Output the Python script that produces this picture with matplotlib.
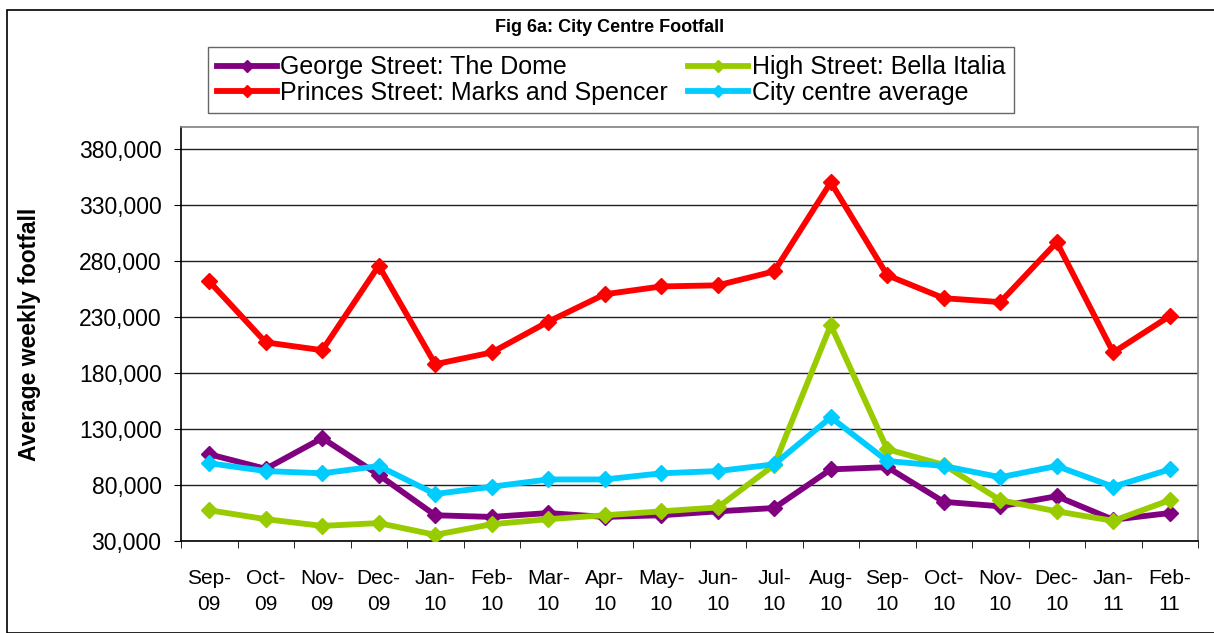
import numpy as np
import matplotlib.pyplot as plt
from matplotlib.patches import Rectangle

plt.rcParams['font.family'] = ['Liberation Sans', 'DejaVu Sans']

months = ['Sep-\n09', 'Oct-\n09', 'Nov-\n09', 'Dec-\n09', 'Jan-\n10', 'Feb-\n10',
          'Mar-\n10', 'Apr-\n10', 'May-\n10', 'Jun-\n10', 'Jul-\n10', 'Aug-\n10',
          'Sep-\n10', 'Oct-\n10', 'Nov-\n10', 'Dec-\n10', 'Jan-\n11', 'Feb-\n11']

george = [107500, 94500, 122000, 89000, 53000, 51500, 55000, 51500, 53000, 56500,
          59500, 94000, 96000, 65000, 61000, 70000, 49000, 55000]
high = [57500, 49500, 43500, 46000, 35500, 45000, 49500, 53000, 56500, 60000,
        98000, 223000, 112000, 98000, 66500, 56500, 48000, 66500]
princes = [262000, 207500, 200500, 276000, 188000, 198500, 226000, 250500, 257500, 258500,
           271000, 350500, 267500, 247000, 243500, 297000, 198500, 231000]
average = [99500, 92500, 90500, 97000, 72000, 78500, 85000, 85000, 90500, 92500,
           98500, 140500, 101500, 97000, 87000, 97000, 78500, 94000]

yticks = [30000, 80000, 130000, 180000, 230000, 280000, 330000, 380000]

fig = plt.figure(figsize=(12.14, 6.33), dpi=100)
fig.patches.append(Rectangle((7 / 1214, 0), 1.0, 1 - 10 / 633, transform=fig.transFigure,
                             fill=False, edgecolor='black', linewidth=1.2))

ax = fig.add_axes([181 / 1214, 1 - 541 / 633, (1198 - 181) / 1214, (541 - 127) / 633])
x = np.arange(len(months))

series = [
    (george, '#800080', 'George Street: The Dome'),
    (princes, '#FF0000', 'Princes Street: Marks and Spencer'),
    (high, '#99CC00', 'High Street: Bella Italia'),
    (average, '#00CCFF', 'City centre average'),
]
# draw order: george, high, average, princes
for idx in [0, 2, 3, 1]:
    vals, col, lab = series[idx]
    ax.plot(x, vals, color=col, lw=4.2, marker='D', ms=8, label=lab,
            solid_joinstyle='round', zorder=3 + idx)

ax.set_xlim(-0.5, len(months) - 0.5)
ax.set_ylim(30000, 400000)
ax.set_yticks(yticks)
ax.set_yticklabels([f'{v:,}' for v in yticks])
ax.yaxis.grid(True, color='#202020', lw=1)
ax.set_axisbelow(True)

ax.set_xticks(x)
ax.set_xticklabels(months, linespacing=1.5)
ax.set_xticks(np.arange(-0.5, len(months)), minor=True)
ax.tick_params(axis='x', which='major', length=0, pad=20, labelsize=15)
ax.tick_params(axis='x', which='minor', length=5, direction='out')
ax.tick_params(axis='y', length=5, direction='out', labelsize=16.5, pad=9)

ax.spines['left'].set_color('black')
ax.spines['bottom'].set_color('black')
ax.spines['top'].set_color('#808080')
ax.spines['right'].set_color('#808080')
for s in ax.spines.values():
    s.set_linewidth(1.2)

fig.text(30 / 1214, 1 - 334 / 633, 'Average weekly footfall', rotation=90,
         ha='center', va='center', fontsize=16.5, fontweight='bold')
fig.text(610 / 1214, 1 - 28 / 633, 'Fig 6a: City Centre Footfall',
         ha='center', va='center', fontsize=13, fontweight='bold')

h, l = ax.get_legend_handles_labels()
order = [l.index(s[2]) for s in series]
leg = fig.legend([h[i] for i in order], [l[i] for i in order], ncol=2,
                 loc='center', bbox_to_anchor=(611 / 1214, 1 - 80 / 633),
                 fontsize=18, frameon=True, fancybox=False, edgecolor='#404040',
                 handlelength=2.4, handletextpad=0.15, columnspacing=0.8,
                 labelspacing=0.05, borderpad=0.35, borderaxespad=0, markerscale=0.8)
leg.get_frame().set_linewidth(1)

fig.savefig('out.png', dpi=100)
